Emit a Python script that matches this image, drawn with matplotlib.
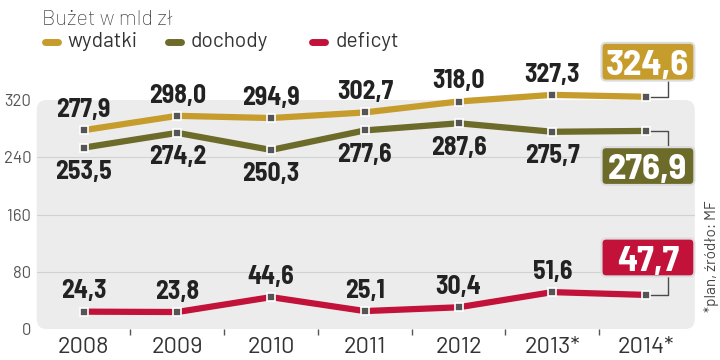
import matplotlib
matplotlib.use('Agg')
import matplotlib.pyplot as plt
from matplotlib import font_manager
from matplotlib.patches import FancyBboxPatch
from matplotlib.lines import Line2D

years = ['2008', '2009', '2010', '2011', '2012', '2013*', '2014*']
wydatki = [277.9, 298.0, 294.9, 302.7, 318.0, 327.3, 324.6]
dochody = [253.5, 274.2, 250.3, 277.6, 287.6, 275.7, 276.9]
deficyt = [24.3, 23.8, 44.6, 25.1, 30.4, 51.6, 47.7]
yticks = [0, 80, 160, 240, 320]

c_wyd = '#c69c2c'
c_doch = '#6c6b2a'
c_def = '#c2123a'
txt = '#222222'
grey = '#4a4a4a'

names = {f.name for f in font_manager.fontManager.ttflist}


def pick(*fams):
    for f in fams:
        if f in names:
            return f
    return 'DejaVu Sans'


num_fam = pick('Barlow Semi Condensed', 'Barlow Condensed', 'DejaVu Sans')
num_font = dict(family=num_fam, weight='bold')
if num_fam == 'DejaVu Sans':
    num_font['stretch'] = 'condensed'
txt_fam = pick('Barlow', 'Barlow Semi Condensed', 'DejaVu Sans')


def fmt(v):
    return '{:.1f}'.format(v).replace('.', ',')


fig = plt.figure(figsize=(7.2, 3.6), dpi=100)
ax = fig.add_axes([0.051, 0.086, 0.914, 0.636])
ax.set_facecolor('none')
x = list(range(len(years)))
ax.set_xlim(-0.5, 6.52)
ax.set_ylim(0, 320)

# panel background
panel = FancyBboxPatch((0, 0), 1, 1, boxstyle='round,pad=0,rounding_size=0.015',
                       mutation_aspect=2.87, transform=ax.transAxes,
                       fc='#ececec', ec='none', zorder=0, clip_on=False)
ax.add_patch(panel)
for g in [80, 160, 240]:
    ax.axhline(g, color='#d2d2d2', lw=0.8, zorder=1)

for s in ax.spines.values():
    s.set_visible(False)

ax.set_yticks(yticks)
ax.set_yticklabels([str(t) for t in yticks], fontsize=12, color='#555555',
                   family=txt_fam)
ax.tick_params(axis='y', length=0, pad=4)
ax.set_xticks(x)
ax.set_xticklabels(years, fontsize=17, color='#333333', family=txt_fam)
ax.tick_params(axis='x', length=0, pad=6)
ax.set_xticks([i + 0.5 for i in range(len(years) - 1)], minor=True)
ax.tick_params(axis='x', which='minor', length=4, width=1, color='#555555',
               direction='out', pad=0)

series = [(wydatki, c_wyd, 9.5, 'baseline'),
          (dochody, c_doch, -9, 'top'),
          (deficyt, c_def, 9.5, 'baseline')]
for vals, col, off, va in series:
    ax.plot(x, vals, color=col, lw=4.5, solid_capstyle='butt', zorder=3,
            marker='s', ms=6, mfc='#555555', mec='white', mew=1.2, clip_on=False)
    for xi, v in zip(x[:-1], vals[:-1]):
        ax.annotate(fmt(v), (xi, v), xytext=(0, off), textcoords='offset points',
                    ha='center', va=va, fontsize=18.5, color=txt, zorder=5,
                    annotation_clip=False, **num_font)

# boxed 2014 values
boxes = [(wydatki[-1], c_wyd, 373.6), (dochody[-1], c_doch, 227.8),
         (deficyt[-1], c_def, 100.0)]
bw, bh = 0.99, 52.8
for v, col, cy in boxes:
    cx = 6.02
    ax.plot([6, 6.235, 6.235], [v, v, cy + (bh / 2 if cy < v else -bh / 2)],
            color=grey, lw=1, zorder=2, clip_on=False)
    ax.add_patch(FancyBboxPatch((cx - bw / 2, cy - bh / 2), bw, bh,
                                boxstyle='round,pad=0,rounding_size=0.05',
                                mutation_aspect=130, fc=col, ec='#dcdcdc', lw=1.5,
                                zorder=6, clip_on=False))
    ax.text(cx, cy - 1, fmt(v), ha='center', va='center_baseline', fontsize=26.5,
            color='white', zorder=7, **num_font)

# title and legend
fig.text(0.058, 0.947, 'Bużet w mld zł', fontsize=15.5, color='#333333',
         ha='left', va='center', family=txt_fam, weight='light')
leg = [(0.058, c_wyd, 'wydatki'), (0.229, c_doch, 'dochody'), (0.43, c_def, 'deficyt')]
for lx, col, lab in leg:
    fig.add_artist(Line2D([lx + 0.004, lx + 0.022], [0.882, 0.882], color=col,
                          lw=5, solid_capstyle='round', transform=fig.transFigure))
    fig.text(lx + 0.036, 0.885, lab, fontsize=15, color='#333333',
             ha='left', va='center', family=txt_fam)

fig.text(0.988, 0.133, '*plan, źródło: MF', rotation=90, fontsize=11,
         color='#444444', ha='center', va='bottom', family=txt_fam)

fig.savefig('out.png', dpi=100)
